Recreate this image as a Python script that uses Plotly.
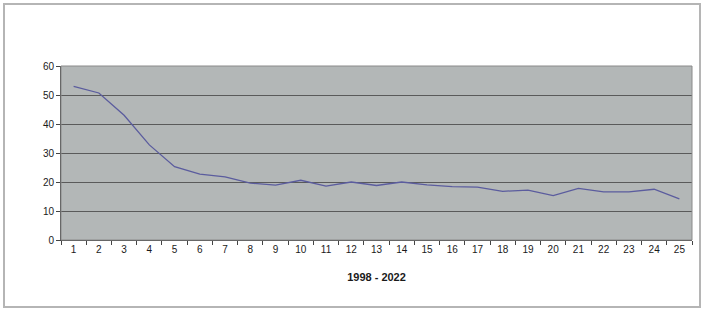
import plotly.graph_objects as go

categories = list(range(1, 26))
values = [53, 50.7, 43, 32.8, 25.3, 22.7, 21.8, 19.6, 18.9, 20.6, 18.6, 20.0, 18.8,
          20.0, 19.0, 18.4, 18.2, 16.8, 17.2, 15.3, 17.8, 16.6, 16.6, 17.5, 14.2]
y_ticks = [0, 10, 20, 30, 40, 50, 60]
x_title = "1998 - 2022"

W, H = 704, 311
L, R, T, B = 61, 12, 66, 71
pw, ph = W - L - R, H - T - B

def px_x(x):
    return (x - L) / pw

def px_y(y):
    return (H - B - y) / ph

fig = go.Figure()
fig.add_trace(go.Scatter(x=categories, y=values, mode="lines",
                         line=dict(color="#5b5c9e", width=1.3), showlegend=False,
                         hoverinfo="skip"))

fig.update_layout(
    width=W, height=H,
    margin=dict(l=L, r=R, t=T, b=B),
    paper_bgcolor="white",
    plot_bgcolor="#b3b7b7",
    font=dict(family="Liberation Sans, Arial, sans-serif", size=10, color="#1a1a1a"),
    shapes=[
        dict(type="rect", xref="paper", yref="paper",
             x0=px_x(4), x1=px_x(700), y0=px_y(307), y1=px_y(4),
             line=dict(color="#b5b5b5", width=2), layer="below"),
        dict(type="rect", xref="paper", yref="paper", x0=0, x1=1, y0=0, y1=1,
             line=dict(color="#8a8a8a", width=1), layer="above"),
    ],
)
fig.update_xaxes(
    range=[0.5, 25.5], tickmode="array", tickvals=categories,
    ticktext=[str(c) for c in categories], ticks="",
    showgrid=False, zeroline=False,
    showline=True, linecolor="#444", linewidth=1,
    minor=dict(tickmode="array", tickvals=[c + 0.5 for c in range(0, 26)],
               ticks="outside", ticklen=4, tickcolor="#444", showgrid=False),
    title=dict(text="<b>" + x_title + "</b>", font=dict(size=11, color="#1a1a1a"), standoff=19),
)
fig.update_yaxes(
    range=[0, 60], tickmode="array", tickvals=y_ticks,
    ticks="outside", ticklen=4, tickcolor="#444",
    showgrid=True, gridcolor="#5a5a5a", gridwidth=1,
    zeroline=False, showline=True, linecolor="#444", linewidth=1,
)
fig.write_html("out.html", config={"displayModeBar": False},
               post_script="document.body.style.margin='0';document.body.style.overflow='hidden';")
